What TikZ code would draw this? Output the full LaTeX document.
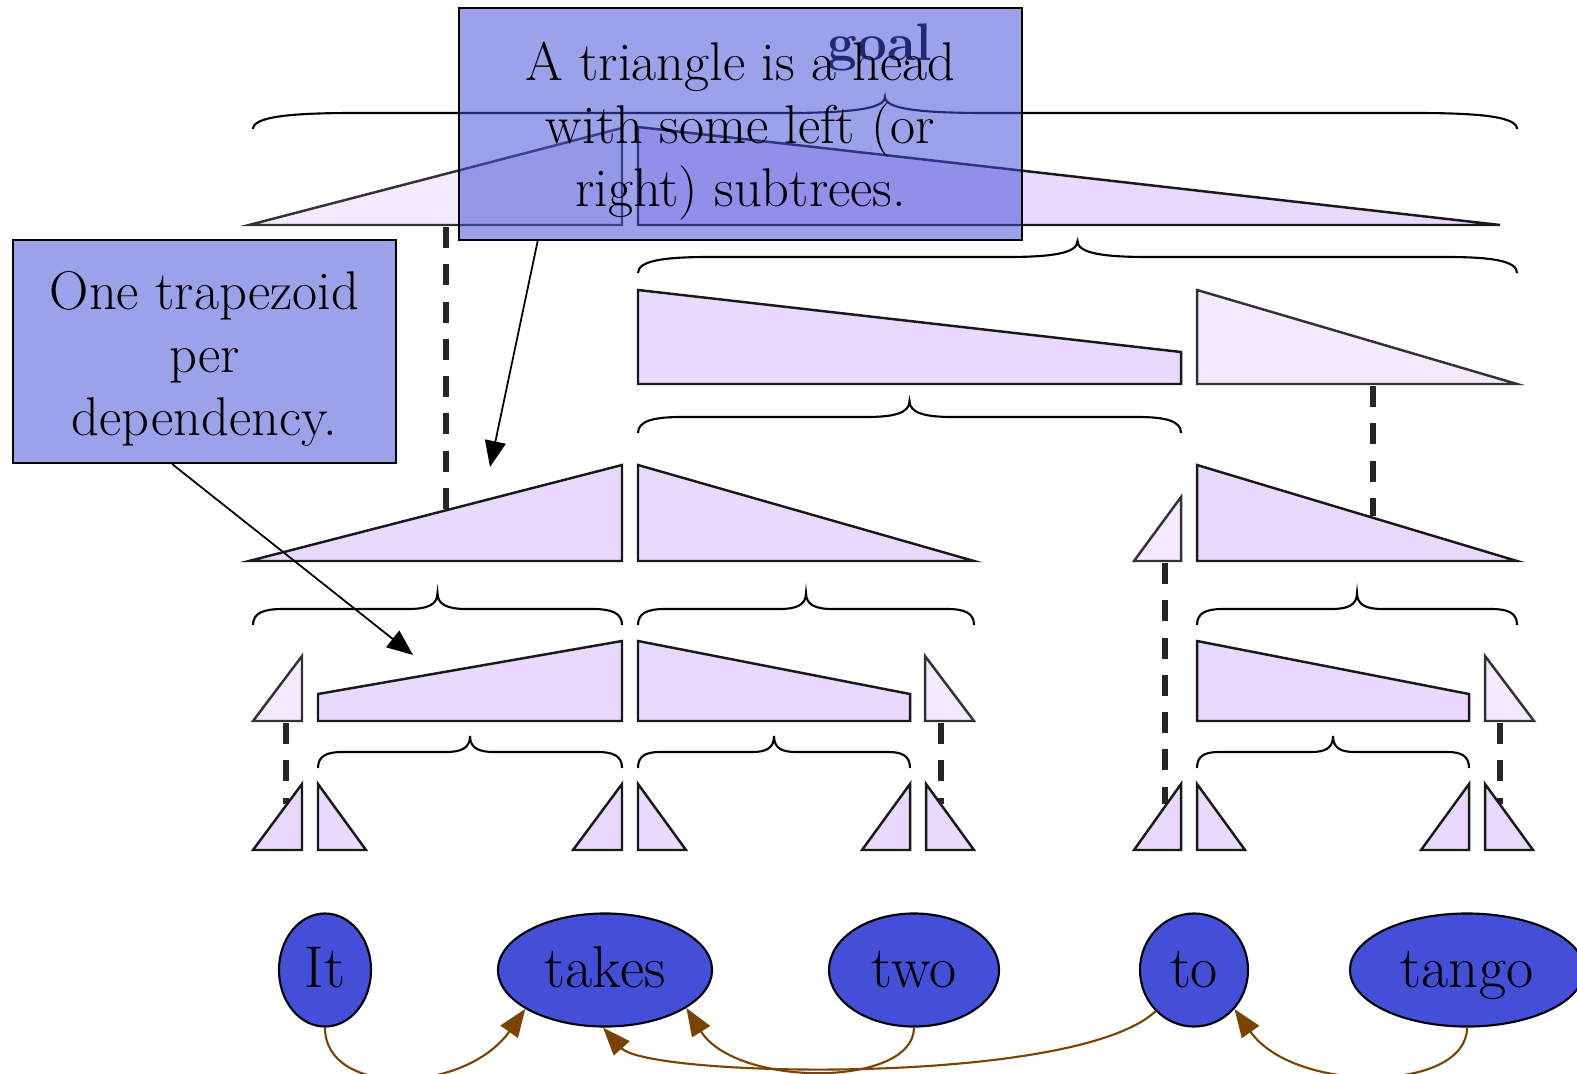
\documentclass[tikz,border=0pt]{standalone}
\usepackage{xcolor}
\usepackage{tikz}
\usetikzlibrary{arrows.meta,shapes.geometric,calc}
\definecolor{wordc}{HTML}{434FD6}
\definecolor{openc}{HTML}{EAD9FF}
\definecolor{donec}{HTML}{F3EAFF}
\definecolor{depc}{HTML}{7B4300}
\tikzset{
  cell/.style={draw=black!90, line width=0.7pt, fill=openc},
  donecell/.style={cell, draw=black!80, fill=donec},
  brc/.style={draw=black, line width=0.6pt},
  link/.style={draw=black!85, line width=1.6pt, dash pattern=on 6pt off 4.6pt},
  word/.style={ellipse, draw, line width=0.6pt, fill=wordc, inner sep=0pt,
               minimum height=1.13cm, text height=15pt, text depth=5pt,
               font=\fontsize{16.8}{20}\selectfont},
  note/.style={draw, line width=0.6pt, fill=wordc, fill opacity=0.53, text opacity=1,
               align=center, inner sep=0pt, font=\fontsize{15.5}{18}\selectfont},
  dep/.style={draw=depc, line width=0.6pt, -{Triangle[length=2.8mm,width=2.1mm]}},
  pointer/.style={draw=black, line width=0.5pt, -{Triangle[length=2.6mm,width=2.1mm]}},
}
% brace over a span: left x, right x, height of the bar
\newcommand{\spanbrace}[3]{%
  \pgfmathsetmacro{\brcw}{0.08*(#2-#1)}%
  \pgfmathsetmacro{\brcm}{(#1+#2)/2}%
  \draw[brc] (#1,#3+16) .. controls (#1,#3+4) and (#1+0.35*\brcw,#3) .. (#1+\brcw,#3)
    -- (\brcm-\brcw,#3) .. controls (\brcm-0.35*\brcw,#3) and (\brcm,#3-4) .. (\brcm,#3-16)
    .. controls (\brcm,#3-4) and (\brcm+0.35*\brcw,#3) .. (\brcm+\brcw,#3)
    -- (#2-\brcw,#3) .. controls (#2-0.35*\brcw,#3) and (#2,#3+4) .. (#2,#3+16);}

\begin{document}
\begin{tikzpicture}[x=0.01cm, y=-0.01cm]
  \useasboundingbox (0,0) rectangle (1577,1073);
  \foreach \x/\ya/\yb in {446/227/511, 1373/386/516, 1165/563/804, 286/723/804, 941/723/804, 1500/723/804}
    \draw[link] (\x,\ya) -- (\x,\yb);
  % goal row
  \spanbrace{253}{1517}{113}
  \draw[donecell] (249,225) -- (622,128) -- (622,225) -- cycle;
  \draw[cell] (638,127) -- (1500,225) -- (638,225) -- cycle;
  % second row
  \spanbrace{638}{1517}{257}
  \draw[cell] (638,290) -- (1181,352) -- (1181,384) -- (638,384) -- cycle;
  \draw[donecell] (1197,290) -- (1517,384) -- (1197,384) -- cycle;
  % third row
  \spanbrace{638}{1181}{417}
  \draw[cell] (249,561) -- (622,465) -- (622,561) -- cycle;
  \draw[cell] (638,465) -- (974,561) -- (638,561) -- cycle;
  \draw[donecell] (1134,561) -- (1181,497) -- (1181,561) -- cycle;
  \draw[cell] (1197,465) -- (1517,561) -- (1197,561) -- cycle;
  % fourth row
  \spanbrace{253}{622}{609}
  \spanbrace{638}{974}{609}
  \spanbrace{1197}{1517}{609}
  \draw[donecell] (253,721) -- (302,656) -- (302,721) -- cycle;
  \draw[cell] (318,694) -- (622,641) -- (622,721) -- (318,721) -- cycle;
  \draw[cell] (638,641) -- (910,694) -- (910,721) -- (638,721) -- cycle;
  \draw[donecell] (925,656) -- (974,721) -- (925,721) -- cycle;
  \draw[cell] (1197,641) -- (1469,694) -- (1469,721) -- (1197,721) -- cycle;
  \draw[donecell] (1485,656) -- (1534,721) -- (1485,721) -- cycle;
  % word row
  \spanbrace{318}{622}{752}
  \spanbrace{638}{910}{752}
  \spanbrace{1197}{1469}{752}
  \foreach \a/\b in {253/302, 573/622, 862/910, 1134/1181, 1421/1469} {
    \draw[cell] (\a,850) -- (\b,784) -- (\b,850) -- cycle;
    \draw[cell] (\b+16,784) -- (\b+64,850) -- (\b+16,850) -- cycle;
  }
  \node[font=\fontsize{15}{17}\selectfont\bfseries] (goal) at (880,48) {goal};
  \node[word, minimum width=0.92cm] (it) at (325,970) {It};
  \node[word, minimum width=2.14cm] (takes) at (605,970) {takes};
  \node[word, minimum width=1.7cm] (two) at (914,970) {two};
  \node[word, minimum width=1.08cm] (to) at (1194,970) {to};
  \node[word, minimum width=2.34cm] (tango) at (1467,970) {tango};
  \draw[dep] (it.south) .. controls +(0,70) and +(-60,85) .. (takes.-154);
  \draw[dep] (two.south) .. controls +(0,60) and +(50,80) .. (takes.-25);
  \draw[dep] (to.-133) .. controls +(-80,75) and +(45,50) .. (takes.-92);
  \draw[dep] (tango.south) .. controls +(0,65) and +(60,85) .. (to.-44);
  \node[note, minimum width=5.63cm, minimum height=2.32cm] (headnote) at (740.5,124)
    {\rule{0pt}{15pt}A triangle is a head\\with some left (or\\right) subtrees.};
  \node[note, minimum width=3.83cm, minimum height=2.23cm] (trapnote) at (204.5,351.5)
    {\rule{0pt}{15pt}One trapezoid\\per\\dependency.};
  \coordinate (headtip) at (490,467);
  \coordinate (traptip) at (413,655);
  \draw[pointer] (headnote.-150) -- (headtip);
  \draw[pointer] (trapnote.-106) -- (traptip);
\end{tikzpicture}
\end{document}
